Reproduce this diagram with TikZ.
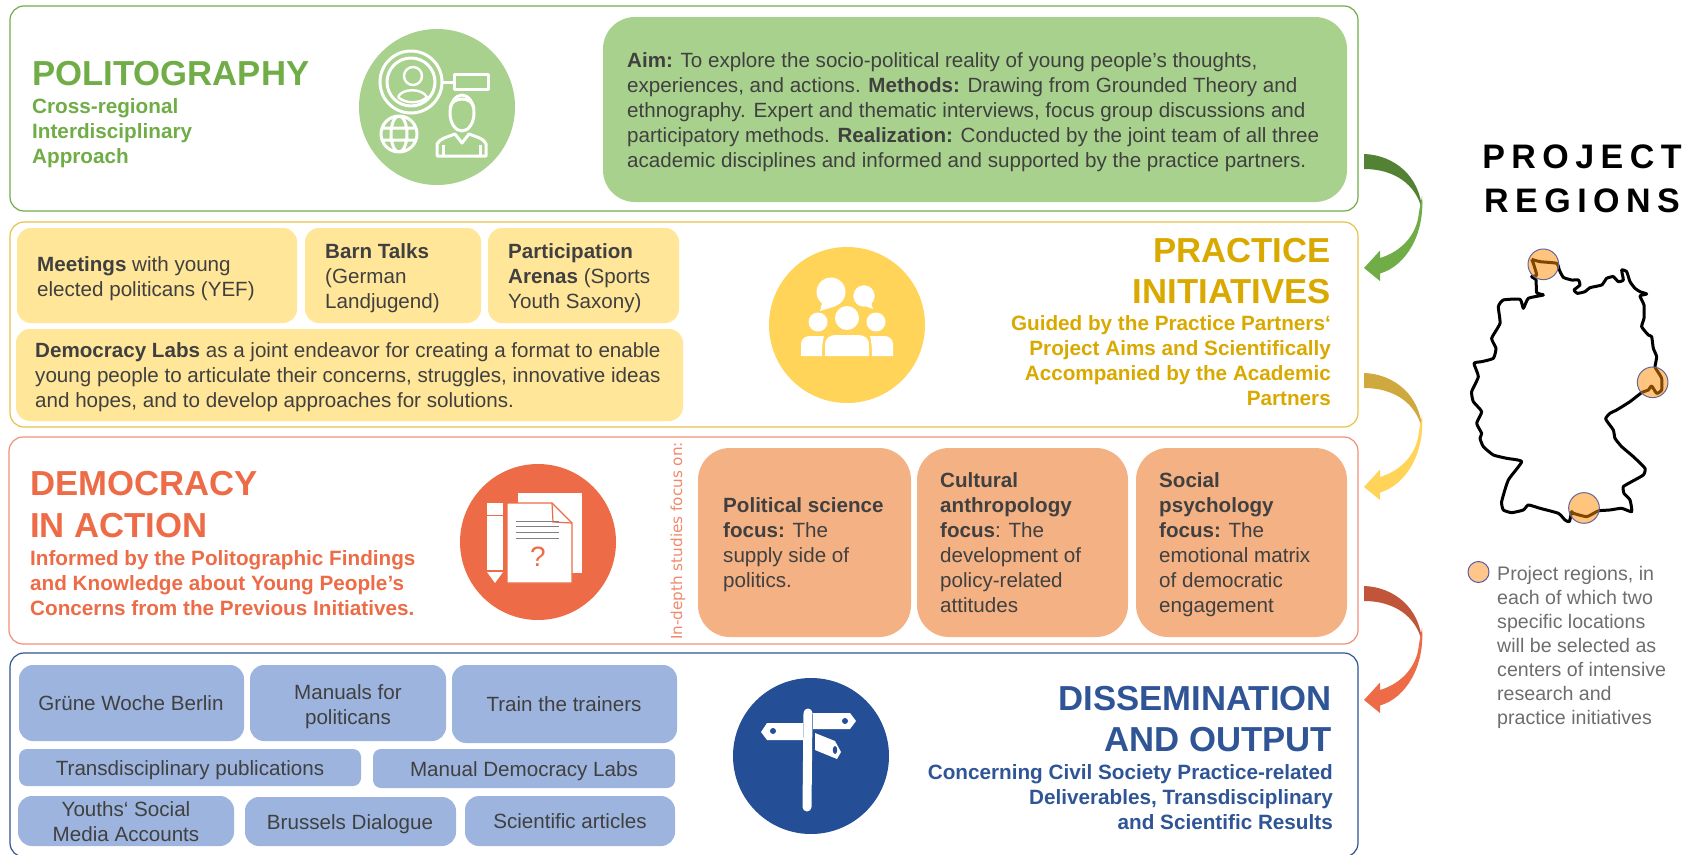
\documentclass[tikz,border=0pt]{standalone}
\usepackage{fontspec}
\setmainfont{Liberation Sans}
\newfontfamily\spaced[LetterSpace=19]{Liberation Sans}
\newfontfamily\wide{DejaVu Sans}
\definecolor{txt}{HTML}{404040}
\definecolor{grn}{HTML}{70AD47}\definecolor{grnL}{HTML}{A9D18E}\definecolor{grnD}{HTML}{548235}
\definecolor{yel}{HTML}{DAA900}\definecolor{yelF}{HTML}{E6C24A}\definecolor{yelL}{HTML}{FFE699}\definecolor{yelC}{HTML}{FFD459}\definecolor{yelD}{HTML}{CFA83E}
\definecolor{org}{HTML}{ED6C47}\definecolor{orgF}{HTML}{F0907A}\definecolor{orgL}{HTML}{F4B183}\definecolor{orgD}{HTML}{C0553A}
\definecolor{blu}{HTML}{2F5597}\definecolor{bluL}{HTML}{9DB4DE}\definecolor{bluC}{HTML}{244F96}
\definecolor{legtxt}{HTML}{6E6E6E}
\newcommand\fs[2]{\fontsize{#1}{#2}\selectfont}
\newcommand\tl[1]{\begin{tabular}[t]{@{}l@{}}#1\end{tabular}}
\newcommand\tr[1]{\begin{tabular}[t]{@{}r@{}}#1\end{tabular}}
\newcommand\tc[1]{\begin{tabular}[t]{@{}c@{}}#1\end{tabular}}
% style, name, x1, y1, x2, y2
\newcommand\rbox[6]{\pgfmathsetmacro\bw{#5-#3}\pgfmathsetmacro\bh{#6-#4}%
  \node[#1,minimum width=\bw pt,minimum height=\bh pt] (#2) at ({(#3+#5)/2},{(#4+#6)/2}) {};}
\newcommand\curvedarrow[3]{%
  \begin{scope}[shift={(#1)}]
  \fill[#2] (0,0) .. controls (30,1) and (56,22) .. (58,56)
      .. controls (52,30) and (30,15) .. (0,15) -- cycle;
  \fill[#3] (58,42) .. controls (61,80) and (42,112) .. (16,119.5)
     -- (16,127) -- (0,114) -- (16,96.5) -- (16,104)
     .. controls (36,98) and (53,82) .. (55,58) -- cycle;
  \end{scope}}
\tikzset{
  frame/.style={draw,line width=1.2pt,rounded corners=14pt,inner sep=0pt},
  card/.style={rounded corners=#1,inner sep=0pt},
  card/.default=14pt,
  disc/.style={circle,minimum size=156pt,inner sep=0pt},
  body/.style={inner sep=0pt,text=txt,font=\fs{20.6}{25}},
  item/.style={body,anchor=base},
  lft/.style={body,anchor=base west},
  rgt/.style={anchor=base east,inner sep=0pt},
  titleL/.style={anchor=base west,inner sep=0pt,font=\fs{34.7}{41}\bfseries},
  titleR/.style={anchor=base east,inner sep=0pt,font=\fs{34.7}{41}\bfseries},
  subt/.style={inner sep=0pt,font=\fs{20.7}{25}\bfseries},
  ic/.style={white,line width=3pt,line join=round},
}
\begin{document}
\begin{tikzpicture}[x=1pt,y=-1pt]
\useasboundingbox (0,0) rectangle (1686,854);
\fill[white] (0,0) rectangle (1686,854);

% ---------- frames
\rbox{frame,draw=grn}{frA}{10}{6}{1358}{211}
\rbox{frame,draw=yelF}{frB}{10}{222}{1358}{427}
\rbox{frame,draw=orgF}{frC}{9}{437}{1358}{644}
\rbox{frame,draw=blu}{frD}{10}{653}{1358}{857}

% ---------- section 1
\node[titleL,text=grn] (t1) at (32,85) {POLITOGRAPHY};
\node[subt,anchor=base west,text=grn] (s1) at (32,113) {\tl{Cross-regional\\Interdisciplinary\\Approach}};
\node[disc,fill=grnL] (c1) at (437,107) {};
\draw[ic] (411,82) circle (31) (411,82) circle (24);
\draw[ic,line width=2.4pt] (413,76) circle (9);
\draw[ic,line width=2.4pt] (398,97) .. controls (402,88) and (422,88) .. (427,97) .. controls (420,104) and (405,104) .. (398,97);
\draw[ic] (442,82) -- (454,82);
\draw[ic] (454,74) rectangle (488,89);
\draw[ic] (399,134) circle (18) (399,134) ellipse (8 and 18) (382,128) -- (416,128) (382,140) -- (416,140);
\draw[ic] (462,113) ellipse (12 and 18);
\draw[ic] (450,108) .. controls (452,96) and (472,96) .. (474,108);
\draw[ic] (437,156) -- (437,144) .. controls (440,138) and (448,137) .. (455,134) -- (462,143) -- (469,134) .. controls (476,137) and (484,138) .. (486,144) -- (486,156) -- cycle;
\draw[ic] (443,145) -- (443,156) (480,145) -- (480,156);
\rbox{card=32pt,fill=grnL}{aim}{603}{17}{1347}{202}
\node[lft] (aimt) at (627,67) {\tl{\textbf{Aim:} To explore the socio-political reality of young people's thoughts,\\
experiences, and actions. \textbf{Methods:} Drawing from Grounded Theory and\\
ethnography. Expert and thematic interviews, focus group discussions and\\
participatory methods. \textbf{Realization:} Conducted by the joint team of all three\\
academic disciplines and informed and supported by the practice partners.}};

% ---------- section 2
\rbox{card,fill=yelL}{y1}{17}{228}{297}{323}
\rbox{card,fill=yelL}{y2}{305}{228}{481}{323}
\rbox{card,fill=yelL}{y3}{488}{228}{679}{323}
\rbox{card,fill=yelL}{y4}{16}{329}{683}{421}
\node[lft] at (37,271) {\tl{\textbf{Meetings} with young\\elected politicans (YEF)}};
\node[lft] at (325,258) {\tl{\textbf{Barn Talks}\\(German\\Landjugend)}};
\node[lft] at (508,258) {\tl{\textbf{Participation}\\\textbf{Arenas} (Sports\\Youth Saxony)}};
\node[lft] at (35,357) {\tl{\textbf{Democracy Labs} as a joint endeavor for creating a format to enable\\
young people to articulate their concerns, struggles, innovative ideas\\
and hopes, and to develop approaches for solutions.}};
\node[disc,fill=yelC] (c2) at (847,325) {};
\fill[white] (831,292) circle (14.5) (820,311) -- (823,300) -- (836,306) -- cycle;
\fill[white] (864,296) circle (10.7) (873,309) -- (862,305) -- (870,300) -- cycle;
\fill[white] (818,322) circle (9.5) (847,318) circle (12) (876,322) circle (9.5);
\fill[white] (801,356) -- (801,344) .. controls (801,339) and (805,336) .. (810,336) -- (824,336) .. controls (823,340) and (822,345) .. (822,356) -- cycle;
\fill[white] (825,356) -- (825,345) .. controls (825,338) and (830,335) .. (836,335) -- (858,335) .. controls (864,335) and (869,338) .. (869,345) -- (869,356) -- cycle;
\fill[white] (872,356) .. controls (872,345) and (871,340) .. (870,336) -- (884,336) .. controls (889,336) and (893,339) .. (893,344) -- (893,356) -- cycle;
\node[titleR,text=yel] (t2a) at (1331,262) {PRACTICE};
\node[titleR,text=yel] (t2b) at (1331,303) {INITIATIVES};
\node[subt,rgt,text=yel] (s2) at (1331,330) {\tr{Guided by the Practice Partners‘\\Project Aims and Scientifically\\Accompanied by the Academic\\Partners}};

% ---------- section 3
\node[titleL,text=org] (t3a) at (30,495) {DEMOCRACY};
\node[titleL,text=org] (t3b) at (30,537) {IN ACTION};
\node[subt,anchor=base west,text=org] (s3) at (30,565) {\tl{Informed by the Politographic Findings\\and Knowledge about Young People’s\\Concerns from the Previous Initiatives.}};
\node[disc,fill=org] (c3) at (538,542) {};
\fill[white] (518,493) rectangle (582,573);
\filldraw[white,draw=org,line width=1.2pt,line join=round] (507,503) -- (552,503) -- (572,523) -- (572,583) -- (507,583) -- cycle;
\draw[org,line width=1.2pt] (552,503) -- (553,522) -- (572,523);
\fill[white] (487,503) rectangle (503,570);
\fill[white] (487,572) -- (503,572) -- (495,583) -- cycle;
\draw[org,line width=1pt] (487,515) -- (503,515);
\draw[gray,line width=1pt] (516,521) -- (559,521) (516,526) -- (559,526) (516,532) -- (559,532) (516,538) -- (559,538);
\node[inner sep=0pt,text=org,font=\fs{28}{30}] (qm) at (538,557) {?};
\node[inner sep=0pt,text=org!80,rotate=90,anchor=center,font=\wide\fs{15.2}{16}] (focus) at (678,541) {In-depth studies focus on:};
\rbox{card=32pt,fill=orgL}{o1}{698}{448}{911}{637}
\rbox{card=32pt,fill=orgL}{o2}{917}{448}{1128}{637}
\rbox{card=32pt,fill=orgL}{o3}{1136}{448}{1347}{637}
\node[lft] at (723,512) {\tl{\textbf{Political science}\\\textbf{focus:} The\\supply side of\\politics.}};
\node[lft] at (940,487) {\tl{\textbf{Cultural}\\\textbf{anthropology}\\\textbf{focus}: The\\development of\\policy-related\\attitudes}};
\node[lft] at (1159,487) {\tl{\textbf{Social}\\\textbf{psychology}\\\textbf{focus:} The\\emotional matrix\\of democratic\\engagement}};

% ---------- section 4
\rbox{card,fill=bluL}{b1}{19}{665}{244}{741}
\rbox{card,fill=bluL}{b2}{250}{665}{446}{741}
\rbox{card,fill=bluL}{b3}{452}{665}{677}{743}
\rbox{card=8pt,fill=bluL}{b4}{19}{749}{361}{786}
\rbox{card=8pt,fill=bluL}{b5}{373}{749}{675}{788}
\rbox{card,fill=bluL}{b6}{18}{796}{234}{846}
\rbox{card,fill=bluL}{b7}{245}{797}{456}{846}
\rbox{card,fill=bluL}{b8}{465}{796}{675}{846}
\node[item] at (131,710) {Grüne Woche Berlin};
\node[item] at (348,699) {\tc{Manuals for\\politicans}};
\node[item] at (564,711) {Train the trainers};
\node[item] at (190,775) {Transdisciplinary publications};
\node[item] at (524,776) {Manual Democracy Labs};
\node[item] at (126,816) {\tc{Youths‘ Social\\Media Accounts}};
\node[item] at (350,829) {Brussels Dialogue};
\node[item] at (570,828) {Scientific articles};
\node[disc,fill=bluC] (c4) at (811,756) {};
\fill[white] (761,732) -- (767,723) -- (803,723) -- (803,740) -- (767,740) -- cycle;
\fill[white] (813,713) -- (850,713) -- (856,721) -- (850,729) -- (813,729) -- cycle;
\fill[white] (815,733) -- (835,741) -- (841,752) -- (837,759) -- (815,750) -- cycle;
\draw[white,line width=9pt,line cap=round] (808,713) -- (807,807);
\fill[bluC] (773,731) circle (3) (845,721) circle (3) (835,750) ellipse (2.2 and 4);
\node[titleR,text=blu] (t4a) at (1332,710) {DISSEMINATION};
\node[titleR,text=blu] (t4b) at (1332,751) {AND OUTPUT};
\node[subt,rgt,text=blu] (s4) at (1333,779) {\tr{Concerning Civil Society Practice-related\\Deliverables, Transdisciplinary\\and Scientific Results}};

% ---------- curved arrows
\coordinate (a1) at (1364,154);
\coordinate (a2) at (1364,373);
\coordinate (a3) at (1364,586);
\curvedarrow{a1}{grnD}{grn}
\curvedarrow{a2}{yelD}{yelC}
\curvedarrow{a3}{orgD}{org}

% ---------- project regions
\node[anchor=base,inner sep=0pt,font=\spaced\bfseries\fs{34}{36}] (pr1) at (1582,168) {PROJECT};
\node[anchor=base,inner sep=0pt,font=\spaced\bfseries\fs{34}{36}] (pr2) at (1582,212) {REGIONS};

\begin{scope}[shift={(1440,220)},x=0.3333pt,y=-0.3333pt]
\draw[black,line width=3pt,line join=round] plot[smooth,tension=0.3] coordinates {
(275,118)(300,125)(350,130)(358,150)(370,172)(395,180)(415,180)(420,195)(402,210)(412,220)(435,215)(450,203)(485,195)(500,175)(520,170)(535,185)(550,180)(545,150)(560,155)(570,185)(585,205)(600,215)(620,222)(600,228)(612,255)(612,295)(605,320)(625,345)(635,350)(640,385)(650,410)(645,440)
(650,450)(665,475)(665,510)(650,520)(635,498)(625,510)(605,518)
(570,545)(530,570)(510,580)(497,597)(520,630)(525,655)(545,680)(580,710)(615,745)(610,765)(575,785)(550,800)(552,820)(570,840)(575,875)(545,865)(510,870)(478,872)
(470,875)(440,890)(400,880)(395,875)(388,905)
(375,900)(355,880)(300,865)(265,855)(250,870)(215,878)(190,870)(185,845)(205,780)(245,725)(200,715)(160,705)(130,680)(120,655)(125,640)(110,610)(125,575)(100,545)(95,515)(115,470)(102,430)(125,425)(160,415)(168,385)(155,355)(180,310)(175,260)(190,240)(240,238)(250,265)(265,235)(310,225)(290,218)(288,180)(275,170)(290,165)(280,130)(275,118)};
\foreach \p/\q in {310/133,638/487,432/864}
  \draw[draw=gray!80!blue,line width=1pt,fill=orange!90!yellow,fill opacity=.5] (\p,\q) circle (46);
\end{scope}

\node[circle,minimum size=21pt,inner sep=0pt,draw=gray!70!blue,line width=1pt,fill=orange!45!white] (leg) at (1478.5,572) {};
\node[anchor=base west,inner sep=0pt,text=legtxt,font=\fs{19.6}{24}] (legt) at (1497,580) {\tl{Project regions, in\\each of which two\\specific locations\\will be selected as\\centers of intensive\\research and\\practice initiatives}};
\end{tikzpicture}
\end{document}
